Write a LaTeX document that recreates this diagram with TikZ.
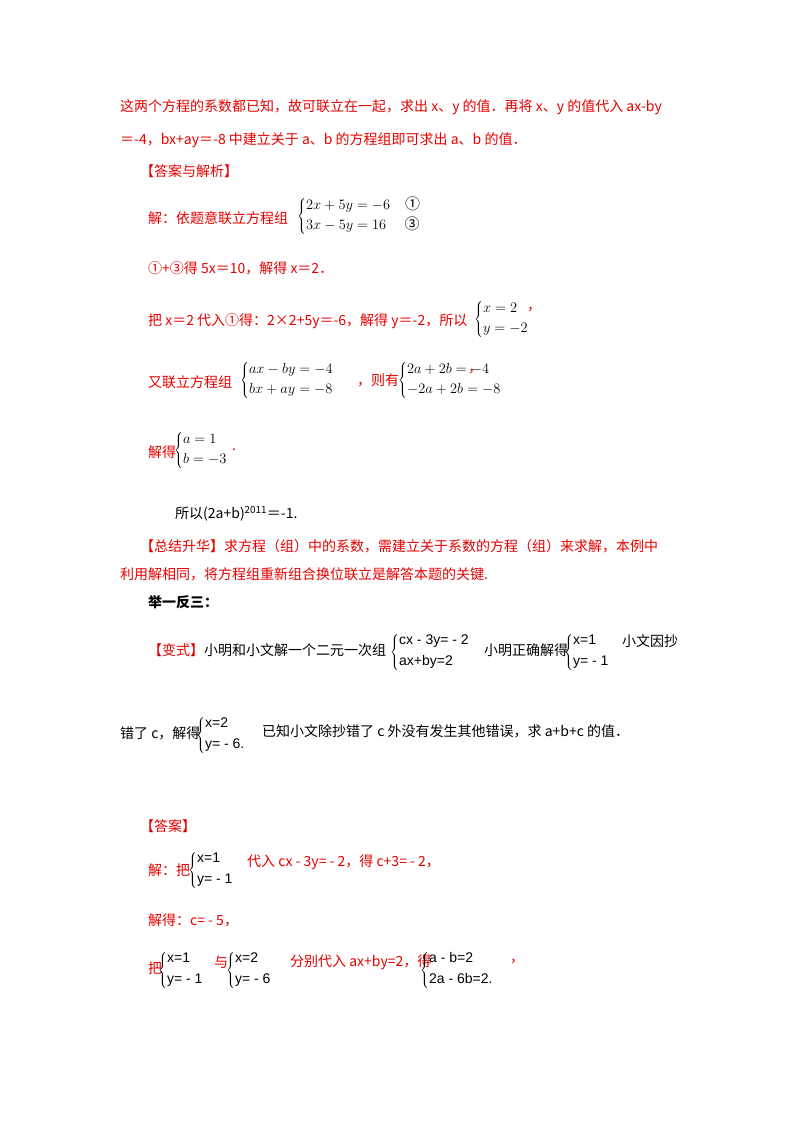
\documentclass[tikz,border=0pt]{standalone}
\usepackage{fontspec}
\setmainfont{Noto Sans CJK SC}
\newfontfamily\arial{Liberation Sans}
\definecolor{rd}{RGB}{230,0,0}
\newcommand\sysm[2]{{\fontsize{15}{18}\selectfont$\left\{\begin{array}{@{}l@{}}#1\\[2pt]#2\end{array}\right.$}}
\newcommand\syst[2]{{\arial\fontsize{14}{16}\selectfont$\left\{\begin{array}{@{}l@{}}\mbox{#1}\\[5pt]\mbox{#2}\end{array}\right.$}}
\begin{document}
\begin{tikzpicture}[x=1pt,y=-1pt,
  t/.style={anchor=west,inner sep=0pt,font=\fontsize{14}{17}\selectfont,text=rd},
  b/.style={t,text=black}]
\useasboundingbox[fill=white] (0,0) rectangle (800,1132);
\node[t] (l1) at (120,107) {这两个方程的系数都已知，故可联立在一起，求出 x、y 的值．再将 x、y 的值代入 ax-by};
\node[t] (l2) at (120,140) {＝-4，bx+ay＝-8 中建立关于 a、b 的方程组即可求出 a、b 的值．};
\node[t] (l3) at (140,171) {【答案与解析】};
\node[t] (l4) at (148,218) {解：依题意联立方程组};
\node[b] (s1) at (297,216) {\sysm{2x+5y=-6\quad\mbox{①}}{3x-5y=16\quad\ \mbox{③}}};
\node[t] (l5) at (148,268) {①+③得 5x＝10，解得 x＝2．};
\node[t] (l6) at (148,321) {把 x＝2 代入①得：2×2+5y＝-6，解得 y＝-2，所以};
\node[b] (s2) at (474,319) {\sysm{x=2}{y=-2}};
\node[t] (c2) at (527,310) {，};
\node[t] (l7) at (148,382) {又联立方程组};
\node[b] (s3) at (240,380) {\sysm{ax-by=-4}{bx+ay=-8}};
\node[t] (l7b) at (357,380) {，则有};
\node[b] (s4) at (398,380) {\sysm{2a+2b=-4}{-2a+2b=-8}};
\node[t] (c4) at (468,372) {，};
\node[t] (l8) at (148,452) {解得};
\node[b] (s5) at (174,450) {\sysm{a=1}{b=-3}};
\node[t] (d5) at (232,450) {.};
\node[b] (l9) at (175,514) {所以(2a+b)\textsuperscript{2011}＝-1.};
\node[t] (l10) at (140,546) {【总结升华】求方程（组）中的系数，需建立关于系数的方程（组）来求解，本例中};
\node[t] (l11) at (120,574) {利用解相同，将方程组重新组合换位联立是解答本题的关键.};
\node[b,font=\fontsize{14}{17}\bfseries] (l12) at (148,602) {举一反三：};
\node[b] (l13) at (148,650) {{\color{rd}【变式】}小明和小文解一个二元一次组};
\node[b] (s6) at (390,652) {\syst{cx - 3y= - 2}{ax+by=2}};
\node[b] (l13b) at (484,650) {小明正确解得};
\node[b] (s7) at (564,652) {\syst{x=1}{y= - 1}};
\node[b] (l13c) at (622,641) {小文因抄};
\node[b] (l14) at (120,733) {错了 c，解得};
\node[b] (s8) at (196,735) {\syst{x=2}{y= - 6.}};
\node[b] (l14b) at (262,731) {已知小文除抄错了 c 外没有发生其他错误，求 a+b+c 的值．};
\node[t] (l15) at (140,826) {【答案】};
\node[t] (l16) at (148,870) {解：把};
\node[b] (s9) at (188,870) {\syst{x=1}{y= - 1}};
\node[t] (l16b) at (247,862) {代入 cx - 3y= - 2，得 c+3= - 2，};
\node[t] (l17) at (148,920) {解得：c= - 5，};
\node[t] (l18) at (148,968) {把};
\node[b] (s10) at (158,970) {\syst{x=1}{y= - 1}};
\node[t] (l18b) at (214,962) {与};
\node[b] (s11) at (226,970) {\syst{x=2}{y= - 6}};
\node[t] (l18c) at (290,962) {分别代入 ax+by=2，得};
\node[b] (s12) at (420,970) {\syst{a - b=2}{2a - 6b=2.}};
\node[t] (c12) at (510,962) {，};
\end{tikzpicture}
\end{document}
